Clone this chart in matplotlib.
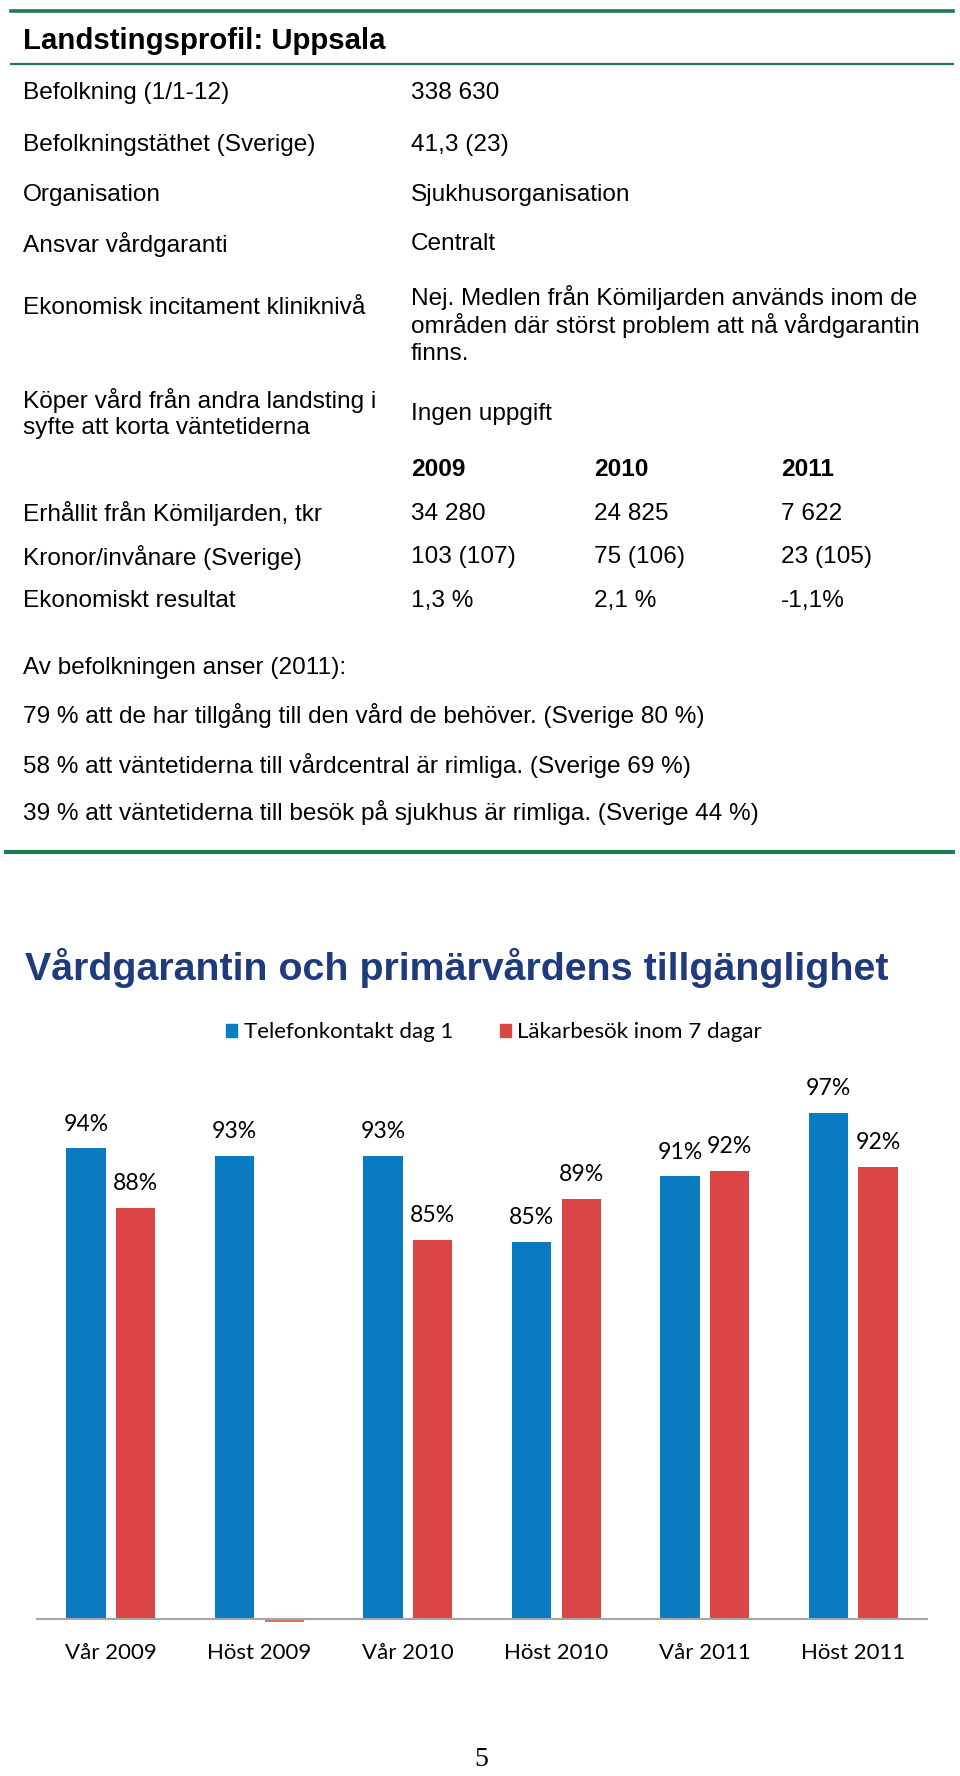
#!/usr/bin/env python3
"""
Landstingsprofil Uppsala: fact table + bar chart of vardgaranti figures
"""

import numpy as np
import matplotlib
matplotlib.use('Agg')
import matplotlib.pyplot as plt
from matplotlib.lines import Line2D
from matplotlib.patches import Patch

# --- data ---
profile_title = 'Landstingsprofil: Uppsala'
info_labels = ['Befolkning (1/1-12)', 'Befolkningstäthet (Sverige)', 'Organisation',
               'Ansvar vårdgaranti', 'Ekonomisk incitament kliniknivå',
               'Köper vård från andra landsting i\nsyfte att korta väntetiderna']
info_values = ['338 630', '41,3 (23)', 'Sjukhusorganisation', 'Centralt',
               'Nej. Medlen från Kömiljarden används inom de\nområden där störst problem att nå vårdgarantin\nfinns.',
               'Ingen uppgift']
years = ['2009', '2010', '2011']
econ_labels = ['Erhållit från Kömiljarden, tkr', 'Kronor/invånare (Sverige)', 'Ekonomiskt resultat']
econ_values = [['34 280', '24 825', '7 622'],
               ['103 (107)', '75 (106)', '23 (105)'],
               ['1,3 %', '2,1 %', '-1,1%']]
survey_lines = ['Av befolkningen anser (2011):',
                '79 % att de har tillgång till den vård de behöver. (Sverige 80 %)',
                '58 % att väntetiderna till vårdcentral är rimliga. (Sverige 69 %)',
                '39 % att väntetiderna till besök på sjukhus är rimliga. (Sverige 44 %)']

chart_title = 'Vårdgarantin och primärvårdens tillgänglighet'
periods = ['Vår 2009', 'Höst 2009', 'Vår 2010', 'Höst 2010', 'Vår 2011', 'Höst 2011']
telefon = [0.937, 0.930, 0.930, 0.850, 0.911, 0.970]
lakarbesok = [0.882, np.nan, 0.852, 0.890, 0.916, 0.920]
series_names = ['Telefonkontakt dag 1', 'Läkarbesök inom 7 dagar']

# --- layout helpers (pixel coords of a 960x1776 page) ---
W, H = 960, 1776
def fx(x):
    return x / W
def fy(y):
    return 1 - y / H

green = '#1e7d4f'
navy = '#203a7e'
blue = '#0a7bc0'
red = '#db4545'
sans = 'Liberation Sans'

fig = plt.figure(figsize=(9.6, 17.76), dpi=100)

def hline(y, x0, x1, lw):
    fig.add_artist(Line2D([fx(x0), fx(x1)], [fy(y), fy(y)], color=green, lw=lw,
                          transform=fig.transFigure))

hline(11.5, 11, 953, 2.6)
hline(64.5, 11, 953, 1.6)
hline(852.5, 6, 953, 3.0)

fig.text(fx(22.6), fy(40.8), profile_title, family=sans, weight='bold',
         fontsize=21.2, va='center', ha='left')

fs = 17.6
label_x, val_x = 22.6, 411
info_y = [92.8, 145, 194.7, 244.5, 308, 414.3]
label_line_y = {5: [400.8, 428]}
value_line_y = {4: [297.7, 325, 354.3]}
for i, (lab, val) in enumerate(zip(info_labels, info_values)):
    lab_lines = lab.split('\n')
    ys = label_line_y.get(i, [info_y[i]])
    for txt, y in zip(lab_lines, ys):
        fig.text(fx(label_x), fy(y), txt, family=sans, fontsize=fs, va='center')
    val_lines = val.split('\n')
    ys = value_line_y.get(i, [info_y[i]])
    for txt, y in zip(val_lines, ys):
        fig.text(fx(val_x), fy(y), txt, family=sans, fontsize=fs, va='center')

col_x = [411, 594, 781]
for yr, cx in zip(years, col_x):
    fig.text(fx(cx), fy(469.8), yr, family=sans, fontsize=fs, weight='bold', va='center')

econ_y = [514, 557, 601]
for lab, vals, y in zip(econ_labels, econ_values, econ_y):
    fig.text(fx(label_x), fy(y), lab, family=sans, fontsize=fs, va='center')
    for v, cx in zip(vals, col_x):
        fig.text(fx(cx), fy(y), v, family=sans, fontsize=fs, va='center')

survey_y = [668, 715.5, 765, 812.8]
for txt, y in zip(survey_lines, survey_y):
    fig.text(fx(label_x), fy(y), txt, family=sans, fontsize=fs, va='center')

# --- chart ---
fig.text(fx(25), fy(968), chart_title, family=sans, weight='bold', fontsize=28.4,
         color=navy, va='center', ha='left')

ax = fig.add_axes([fx(36.7), fy(1619.3), fx(927.5) - fx(36.7), fy(1080.3) - fy(1619.3)])
x = np.arange(len(periods))
bw = 0.265
off = 0.1676
tel = np.array(telefon)
lak = np.array(lakarbesok)
ax.bar(x - off, tel, bw, color=blue)
ax.bar(x + off, np.nan_to_num(lak, nan=0.0), bw, color=red)

# missing value shows as a small stub below the axis
for xi, v in zip(x, lak):
    if np.isnan(v):
        ax.bar(xi + off, -0.0025, bw, bottom=0.5, color=red, alpha=0.8, clip_on=False)

lab_font = 'Lato'
for xi, v in zip(x, tel):
    ax.annotate('{:.0f}%'.format(v * 100), (xi - off, v), xytext=(0, 12.7),
                textcoords='offset points', ha='center', va='baseline',
                family=lab_font, fontsize=16.6)
for xi, v in zip(x, lak):
    if np.isnan(v):
        continue
    ax.annotate('{:.0f}%'.format(v * 100), (xi + off, v), xytext=(0, 12.7),
                textcoords='offset points', ha='center', va='baseline',
                family=lab_font, fontsize=16.6)

ax.set_xlim(-0.5, len(periods) - 0.5)
ax.set_ylim(0.5, 1.0)
ax.set_yticks([])
ax.set_xticks(x)
ax.set_xticklabels(periods, family=lab_font, fontsize=16)
ax.tick_params(axis='x', length=0, pad=17)
for s in ['top', 'left', 'right']:
    ax.spines[s].set_visible(False)
ax.spines['bottom'].set_color('#a6a6a6')
ax.spines['bottom'].set_linewidth(1.5)
ax.set_zorder(1)

handles = [Patch(color=blue), Patch(color=red)]
fig.legend(handles, series_names, loc='center', bbox_to_anchor=(fx(494), fy(1032.5)),
           ncol=2, frameon=False, prop={'family': lab_font, 'size': 16},
           handlelength=0.5, handleheight=0.5, handletextpad=0.3, columnspacing=2.1)

fig.text(fx(481), fy(1772), '5', family='Liberation Serif', fontsize=20,
         ha='center', va='bottom')

plt.savefig('out.png', dpi=100)
print('saved out.png')
